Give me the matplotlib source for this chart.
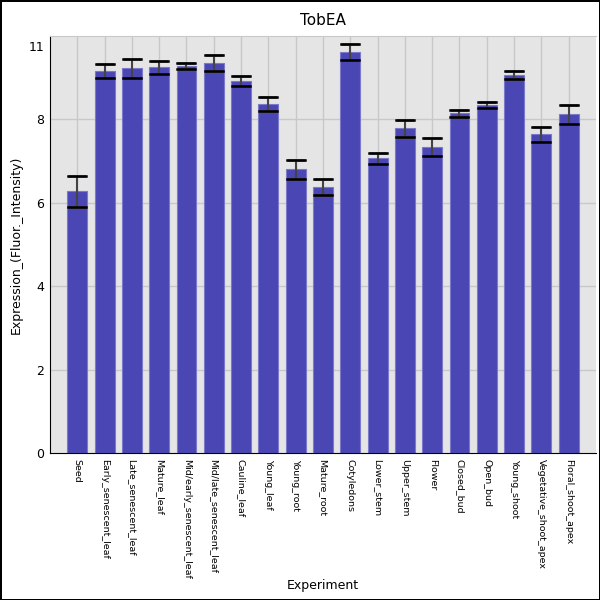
import numpy as np
import matplotlib.pyplot as plt

# tissue names and mean expression with error
experiments = ["Seed", "Early_senescent_leaf", "Late_senescent_leaf", "Mature_leaf",
               "Mid/early_senescent_leaf", "Mid/late_senescent_leaf", "Cauline_leaf",
               "Young_leaf", "Young_root", "Mature_root", "Cotyledons", "Lower_stem",
               "Upper_stem", "Flower", "Closed_bud", "Open_bud", "Young_shoot",
               "Vegetative_shoot_apex", "Floral_shoot_apex"]
expression = [6.28, 9.16, 9.23, 9.25, 9.28, 9.35, 8.92, 8.37, 6.81, 6.38,
              9.62, 7.07, 7.79, 7.34, 8.15, 8.34, 9.06, 7.65, 8.12]
error = [0.37, 0.17, 0.23, 0.15, 0.07, 0.19, 0.13, 0.17, 0.23, 0.20,
         0.19, 0.13, 0.20, 0.21, 0.08, 0.07, 0.09, 0.18, 0.23]

ytick_pos = [0, 2, 4, 6, 8, 9.77]
ytick_labels = ["0", "2", "4", "6", "8", "11"]

fig = plt.figure(figsize=(6, 6), dpi=100)
fig.patch.set_edgecolor("black")
fig.patch.set_linewidth(2)
ax = fig.add_axes([0.0833, 0.2445, 0.91, 0.6955])
ax.set_facecolor("#e5e5e5")

x = np.arange(len(experiments))
ax.bar(x, expression, width=0.73, color="#4a46b4", edgecolor="#7b79c9",
       linewidth=0.8, zorder=2)
ax.errorbar(x, expression, yerr=error, fmt="none", ecolor="#444444",
            elinewidth=1.5, capsize=6.5, capthick=1.8, zorder=3)
# black caps on top of gray stems
for xi, v, e in zip(x, expression, error):
    ax.plot([xi - 0.33, xi + 0.33], [v + e, v + e], color="black", lw=1.8, zorder=4)
    ax.plot([xi - 0.33, xi + 0.33], [v - e, v - e], color="black", lw=1.8, zorder=4)

ax.set_xlim(-1, len(experiments))
ax.set_ylim(0, 10)
ax.set_xticks(x)
ax.set_xticklabels(experiments, rotation=270, fontsize=6.8)
ax.set_yticks(ytick_pos)
ax.set_yticklabels(ytick_labels, fontsize=9)
ax.tick_params(axis="both", length=0, pad=4)

ax.set_axisbelow(True)
ax.grid(True, color="#c8c8c8", linewidth=1)
ax.get_ygridlines()[-1].set_visible(False)
ax.get_ygridlines()[0].set_visible(False)

ax.spines["right"].set_visible(False)
ax.spines["top"].set_color("#c8c8c8")
ax.spines["left"].set_color("black")
ax.spines["bottom"].set_color("black")

ax.set_title("TobEA", fontsize=11, pad=8)
ax.set_xlabel("Experiment", fontsize=9, labelpad=0)
ax.set_ylabel("Expression_(Fluor._Intensity)", fontsize=9)

fig.savefig("out.png", dpi=100, edgecolor=fig.get_edgecolor())
